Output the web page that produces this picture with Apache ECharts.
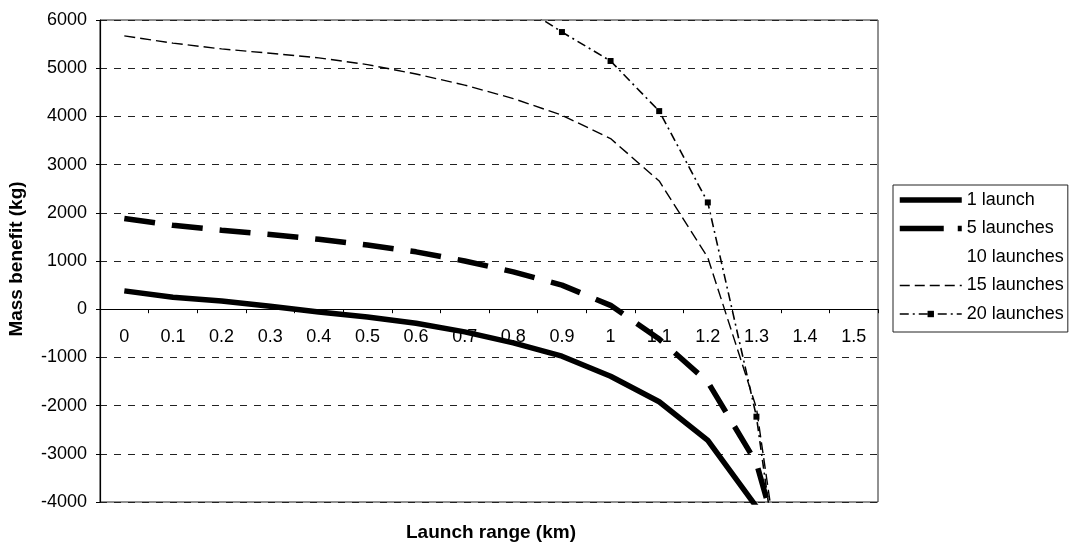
<!DOCTYPE html>
<html>
<head>
<meta charset="utf-8">
<script src="https://cdn.jsdelivr.net/npm/echarts@6/dist/echarts.min.js"></script>
<style>
  html, body { margin: 0; padding: 0; background: #fff; }
  #chart { width: 1071px; height: 550px; }
</style>
</head>
<body>
<div id="chart"></div>
<script>
// Launch range categories (km)
const ranges = ['0', '0.1', '0.2', '0.3', '0.4', '0.5', '0.6', '0.7', '0.8', '0.9', '1', '1.1', '1.2', '1.3', '1.4', '1.5'];

// Mass benefit (kg) per number of launches
const launches1  = [380, 250, 170, 60, -60, -160, -290, -470, -700, -975, -1390, -1920, -2720, -4100, null, null];
const launches5  = [1880, 1740, 1640, 1550, 1450, 1330, 1190, 1000, 775, 500, 80, -620, -1510, -3190, -6770, null];
const launches10 = [];
const launches15 = [5670, 5520, 5400, 5310, 5215, 5075, 4880, 4650, 4370, 4025, 3540, 2660, 1070, -2050, -9000, null];
const launches20 = [null, null, null, null, null, null, null, null, 6400, 5750, 5150, 4110, 2215, -2230, -9500, null];

const yTicks = { min: -4000, max: 6000, step: 1000 };

const FONT = 'Liberation Sans, Arial, sans-serif';
const INK = '#000';

// Plot box (px)
const GRID = { left: 100, right: 193, top: 20, bottom: 48 };
const plotHeight = 550 - GRID.top - GRID.bottom;
// Category axis sits on the zero line of the value axis
const xAxisOffset = -plotHeight * (0 - yTicks.min) / (yTicks.max - yTicks.min);

// Line styles shared by the series and their legend icons
const STYLE1  = { color: INK, width: 5.5, type: 'solid' };
const STYLE5  = { color: INK, width: 5.5, type: [31, 17] };
const STYLE15 = { color: INK, width: 1.4, type: [11, 5] };
const STYLE20 = { color: INK, width: 1.6, type: [9, 4, 2, 4] };

// Legend entries; plain lines get a hidden marker in their icon
const HIDE_MARK = { opacity: 0 };
const legendItems = [
  { name: '1 launch', itemStyle: HIDE_MARK, lineStyle: { width: 5.5 } },
  { name: '5 launches', itemStyle: HIDE_MARK, lineStyle: { width: 5.5, type: [44, 14] } },
  { name: '10 launches', itemStyle: HIDE_MARK, lineStyle: { width: 0 } },
  { name: '15 launches', itemStyle: HIDE_MARK, lineStyle: { width: 1.4, type: [10, 5] } },
  { name: '20 launches', lineStyle: { width: 1.6, type: [9, 4, 2, 4] } }
];

const chart = echarts.init(document.getElementById('chart'), null, { renderer: 'canvas' });

chart.setOption({
  backgroundColor: '#fff',
  animation: false,
  grid: Object.assign({
    show: true, borderColor: '#222', borderWidth: 1, backgroundColor: 'transparent'
  }, GRID),
  legend: {
    orient: 'vertical',
    left: 893, top: 185,
    itemWidth: 62, itemHeight: 8, itemGap: 10.5,
    padding: [6, 4, 9, 4],
    borderColor: '#222', borderWidth: 1, backgroundColor: '#fff',
    textStyle: { fontFamily: FONT, fontSize: 18, color: INK },
    data: legendItems
  },
  xAxis: {
    type: 'category',
    data: ranges,
    boundaryGap: true,
    offset: xAxisOffset,
    axisLine: { onZero: false, lineStyle: { color: INK, width: 1.2 } },
    axisTick: { show: true, length: 4, interval: 0, lineStyle: { color: INK } },
    axisLabel: { interval: 0, margin: 19, fontFamily: FONT, fontSize: 18, color: INK },
    splitLine: { show: false }
  },
  yAxis: {
    type: 'value',
    min: yTicks.min, max: yTicks.max, interval: yTicks.step,
    axisLine: { show: true, onZero: false, lineStyle: { color: INK, width: 1.2 } },
    axisTick: { show: true, length: 4, lineStyle: { color: INK } },
    axisLabel: {
      margin: 13, fontFamily: FONT, fontSize: 18, color: INK,
      formatter: v => String(v)
    },
    splitLine: { show: true, lineStyle: { color: '#222', width: 1, type: [7, 7] } }
  },
  graphic: [
    {
      type: 'text', x: 491, y: 533,
      style: {
        text: 'Launch range (km)', fontFamily: FONT, fontSize: 19, fontWeight: 'bold',
        fill: INK, align: 'center', verticalAlign: 'middle'
      }
    },
    {
      type: 'text', x: 17, y: 259, rotation: Math.PI / 2,
      style: {
        text: 'Mass benefit (kg)', fontFamily: FONT, fontSize: 19, fontWeight: 'bold',
        fill: INK, align: 'center', verticalAlign: 'middle'
      }
    }
  ],
  series: [
    {
      name: '1 launch', type: 'line', data: launches1,
      symbol: 'none', clip: true,
      lineStyle: STYLE1, itemStyle: { color: INK }
    },
    {
      name: '5 launches', type: 'line', data: launches5,
      symbol: 'none', clip: true,
      lineStyle: STYLE5, itemStyle: { color: INK }
    },
    {
      name: '10 launches', type: 'line', data: launches10,
      symbol: 'none', clip: true,
      lineStyle: { color: 'rgba(0,0,0,0)', width: 1 },
      itemStyle: { color: 'rgba(0,0,0,0)' }
    },
    {
      name: '15 launches', type: 'line', data: launches15,
      symbol: 'none', clip: true,
      lineStyle: STYLE15, itemStyle: { color: INK }
    },
    {
      name: '20 launches', type: 'line', data: launches20,
      symbol: 'rect', symbolSize: 6, showSymbol: true, clip: true,
      lineStyle: STYLE20, itemStyle: { color: INK }
    }
  ]
});
</script>
</body>
</html>
